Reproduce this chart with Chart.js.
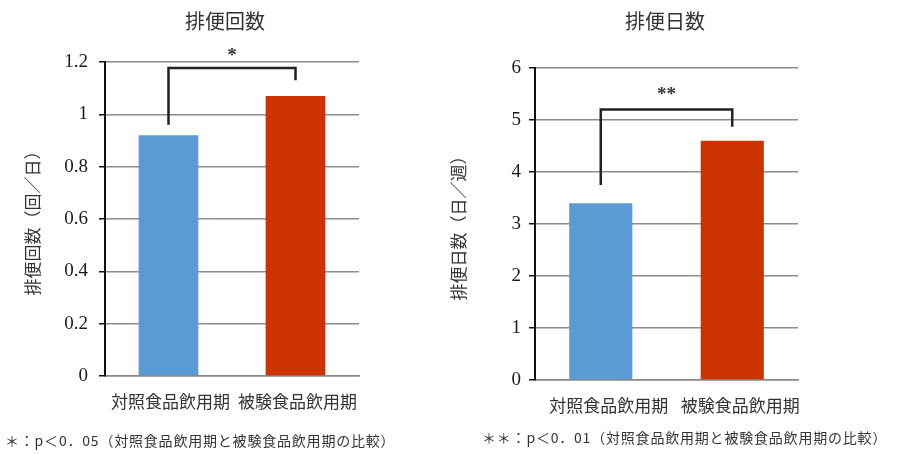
<!DOCTYPE html>
<html>
<head>
<meta charset="utf-8">
<script src="https://cdn.jsdelivr.net/npm/chart.js@4"></script>
<style>
  body { margin: 0; background: #fff; width: 900px; height: 454px; position: relative; overflow: hidden; }
  .box { position: absolute; top: 0; height: 454px; }
  .txt { position: absolute; font-family: "Noto Sans CJK JP", sans-serif; color: #333; white-space: nowrap; }
  .note { font-size: 14px; letter-spacing: 0.8px; }
</style>
</head>
<body>
<div class="box" style="left:0;width:440px"><canvas id="kaisu"></canvas></div>
<div class="box" style="left:440px;width:460px"><canvas id="nissu"></canvas></div>
<div class="txt" style="left:185px;top:6px;font-size:20px">排便回数</div>
<div class="txt" style="left:625px;top:6px;font-size:20px">排便日数</div>
<div class="txt note" style="left:5px;top:430px">＊：p＜0．05（対照食品飲用期と被験食品飲用期の比較）</div>
<div class="txt note" style="left:482px;top:427px">＊＊：p＜0．01（対照食品飲用期と被験食品飲用期の比較）</div>
<script>
// data
let periods = ['対照食品飲用期', '被験食品飲用期'];
let kaisu = [0.92, 1.07];     // 排便回数（回/日）
let nissu = [3.40, 4.60];     // 排便日数（日/週）
let barColors = ['#5B9BD5', '#CC3300'];
// significance brackets: [left leg end, top, right leg end]
let kaisuBracket = [0.96, 1.177, 1.13];
let nissuBracket = [3.75, 5.2, 4.87];

const bracketPlugin = {
  id: 'bracket',
  afterDatasetsDraw(chart, args, opts) {
    const {ctx, scales: {x, y}} = chart;
    const x0 = x.getPixelForValue(0), x1 = x.getPixelForValue(1);
    ctx.save();
    ctx.strokeStyle = '#222';
    ctx.lineWidth = 2.5;
    ctx.beginPath();
    ctx.moveTo(x0, y.getPixelForValue(opts.levels[0]));
    ctx.lineTo(x0, y.getPixelForValue(opts.levels[1]));
    ctx.lineTo(x1, y.getPixelForValue(opts.levels[1]));
    ctx.lineTo(x1, y.getPixelForValue(opts.levels[2]));
    ctx.stroke();
    ctx.fillStyle = '#333';
    ctx.font = 'bold 19px "Liberation Serif"';
    ctx.textAlign = 'center';
    ctx.textBaseline = 'middle';
    ctx.fillText(opts.mark, (x0 + x1) / 2, y.getPixelForValue(opts.markAt));
    ctx.restore();
  }
};

function makeChart(id, values, yTitle, max, step, yWidth, xHeight, pad, tickPad, titlePad, bar, labelShift, bracket) {
  return new Chart(document.getElementById(id), {
    type: 'bar',
    data: {
      labels: periods,
      datasets: [{
        data: values,
        backgroundColor: barColors,
        barPercentage: bar,
        categoryPercentage: 1
      }]
    },
    options: {
      responsive: true,
      maintainAspectRatio: false,
      animation: false,
      layout: { padding: pad },
      plugins: {
        legend: { display: false },
        tooltip: { enabled: false },
        bracket: bracket
      },
      scales: {
        x: {
          afterFit: s => { s.height = xHeight; },
          grid: { display: false, drawTicks: false },
          border: { color: '#888', width: 1.5 },
          ticks: {
            padding: 15,
            color: '#333',
            autoSkip: false,
            maxRotation: 0,
            minRotation: 0,
            labelOffset: labelShift,
            font: { family: '"Noto Sans CJK JP"', size: 17 }
          }
        },
        y: {
          min: 0,
          max: max,
          afterFit: s => { s.width = yWidth; },
          ticks: {
            stepSize: step,
            padding: tickPad,
            color: '#1a1a1a',
            font: { family: '"Liberation Serif"', size: 19 },
            callback: v => String(Number(v.toFixed(1)))
          },
          grid: { color: '#8c8c8c', lineWidth: 1.5, tickLength: 6, tickColor: '#111' },
          border: { color: '#111', width: 2 },
          title: {
            display: true,
            text: yTitle,
            color: '#333',
            padding: { top: titlePad, bottom: 0 },
            font: { family: '"Noto Sans CJK JP"', size: 17 }
          }
        }
      }
    },
    plugins: [bracketPlugin]
  });
}

makeChart('kaisu', kaisu, '排便回数（回／日）', 1.2, 0.2, 105, 78,
  { top: 62, right: 81, left: 0, bottom: 0 }, 11, 22, 0.47, 2,
  { levels: kaisuBracket, mark: '*', markAt: 1.222 });
makeChart('nissu', nissu, '排便日数（日／週）', 6, 1, 95, 74,
  { top: 68, right: 102, left: 0, bottom: 0 }, 8, 8, 0.48, 8,
  { levels: nissuBracket, mark: '**', markAt: 5.48 });
</script>
</body>
</html>
